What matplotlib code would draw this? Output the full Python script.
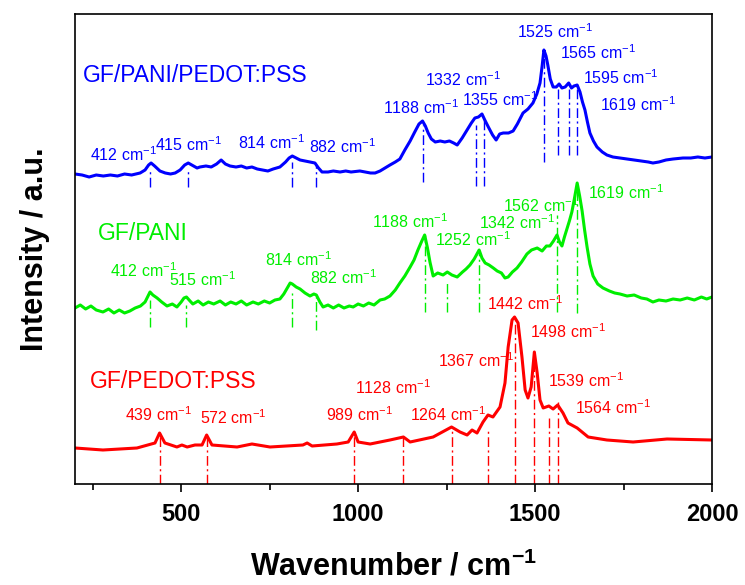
import matplotlib
matplotlib.use("Agg")
import matplotlib.pyplot as plt
from matplotlib.ticker import MultipleLocator

plt.rcParams['font.family'] = ['Liberation Sans', 'DejaVu Sans']
plt.rcParams['mathtext.fontset'] = 'custom'
plt.rcParams['mathtext.rm'] = 'Liberation Sans'
plt.rcParams['mathtext.it'] = 'Liberation Sans:italic'
plt.rcParams['mathtext.bf'] = 'Liberation Sans:bold'

# ---------------- data ----------------
blue_x = [200, 220, 240, 260, 280, 300, 320, 340, 360, 384, 398, 408, 415, 425, 440, 455,
          470, 483, 497, 510, 520, 530, 545, 553, 570, 585, 600, 613, 625, 638, 655, 670,
          685, 700, 715, 730, 745, 760, 779, 795, 805, 814, 825, 836, 850, 865, 878, 888,
          898, 915, 930, 949, 965, 980, 1005, 1020, 1035, 1048, 1062, 1076, 1090, 1105,
          1118, 1132, 1147, 1160, 1172, 1182, 1190, 1198, 1207, 1218, 1232, 1245, 1258,
          1270, 1280, 1294, 1308, 1320, 1330, 1340, 1350, 1358, 1368, 1380, 1390, 1400,
          1410, 1425, 1438, 1450, 1466, 1480, 1494, 1505, 1514, 1520, 1525, 1531, 1536,
          1543, 1551, 1560, 1568, 1576, 1585, 1595, 1603, 1610, 1619, 1627, 1634, 1641,
          1648, 1655, 1665, 1675, 1690, 1703, 1720, 1740, 1760, 1780, 1800, 1820, 1833,
          1850, 1870, 1890, 1918, 1940, 1960, 1980, 2000]
blue_y = [310, 309, 307, 309, 308, 309, 308, 310, 309, 311, 314, 319, 321, 318, 313, 311,
          310, 311, 314, 319, 321, 319, 316, 317, 318, 317, 320, 324, 320, 318, 317, 318,
          316, 317, 315, 314, 313, 315, 317, 322, 326, 328, 326, 324, 323, 322, 321, 316,
          312, 312, 313, 312, 313, 312, 313, 312, 311, 311, 313, 316, 319, 322,
          325, 334, 343, 352, 360, 363, 358, 351, 345, 342, 343, 342, 343,
          341, 339, 346, 354, 361, 366, 367, 370, 364, 357, 349, 344, 350,
          351, 351, 353, 360, 371, 375, 381, 390, 401, 418, 434, 428, 419,
          405, 397, 397, 400, 396, 397, 401, 396, 398, 399, 392, 382, 374,
          362, 351, 343, 337, 332, 329, 327, 326, 325, 324, 323, 322, 321,
          322, 324, 325, 326, 326, 327, 326, 327]

green_x = [200, 215, 230, 245, 260, 279, 295, 310, 325, 340, 355, 370, 385, 398, 405, 412,
           420, 432, 445, 460, 475, 488, 500, 508, 515, 525, 533, 548, 562, 577, 592, 610,
           625, 640, 655, 670, 685, 703, 718, 735, 750, 765, 779, 790, 800, 808, 814, 825,
           836, 850, 864, 875, 882, 892, 901, 915, 930, 945, 960, 975, 986, 1000, 1015,
           1030, 1045, 1062, 1075, 1090, 1105, 1118, 1132, 1147, 1158, 1169, 1180, 1188,
           1196, 1203, 1212, 1225, 1240, 1252, 1265, 1280, 1295, 1305, 1316, 1328, 1342,
           1350, 1359, 1370, 1382, 1393, 1405, 1415, 1424, 1436, 1449, 1462, 1477, 1490,
           1506, 1520, 1532, 1542, 1552, 1562, 1569, 1576, 1583, 1590, 1597, 1604, 1611,
           1619, 1626, 1633, 1640, 1647, 1655, 1664, 1677, 1692, 1710, 1725, 1740, 1760,
           1780, 1800, 1816, 1833, 1850, 1870, 1890, 1910, 1930, 1950, 1970, 1985, 2000]
green_y = [176, 179, 175, 178, 174, 172, 175, 171, 174, 171, 173, 176, 178, 182, 187, 192,
           189, 186, 182, 178, 180, 177, 182, 186, 187, 183, 180, 183, 179, 182, 180, 183,
           179, 182, 180, 183, 179, 182, 180, 183, 181, 184, 185, 190, 196, 201, 200, 197,
           195, 191, 188, 190, 189, 182, 177, 179, 176, 179, 176, 178, 177, 180, 178,
           181, 179, 184, 185, 188, 194, 201, 208, 217, 224, 234, 243, 249,
           236, 222, 208, 211, 209, 212, 209, 207, 212, 215, 219, 225, 234,
           226, 221, 219, 216, 213, 211, 206, 207, 212, 216, 222, 230, 234,
           236, 233, 238, 238, 243, 249, 242, 238, 247, 255, 263, 272, 285,
           301, 288, 273, 254, 237, 220, 208, 200, 196, 193, 191, 190, 188,
           189, 186, 185, 182, 184, 183, 185, 184, 186, 184, 187, 185, 187]

red_x = [200, 279, 375, 426, 439, 454, 488, 502, 517, 539, 559, 572, 587, 658, 700, 751,
         844, 856, 870, 940, 972, 989, 1000, 1034, 1090, 1128, 1147, 1212, 1264, 1288,
         1308, 1322, 1336, 1353, 1367, 1381, 1401, 1415, 1424, 1435, 1442, 1452, 1463,
         1472, 1480, 1489, 1498, 1506, 1514, 1523, 1539, 1551, 1564, 1579, 1593, 1619,
         1650, 1703, 1777, 1873, 2000]
red_y = [36, 34, 36, 41, 51, 41, 37, 39, 37, 39, 39, 49, 39, 37, 40, 37,
         39, 41, 38, 40, 42, 52, 42, 40, 44, 47, 42, 47, 57, 52,
         49, 54, 51, 62, 69, 67, 77, 101, 137, 164, 167, 161, 127,
         94, 86, 97, 132, 111, 84, 76, 78, 75, 79, 71, 61, 56,
         47, 44, 42, 45, 44]

# peak marker lines: wavenumber, top, bottom
blue_peaks = [412, 518, 814, 882, 1182, 1332, 1355, 1525, 1565, 1595, 1619]
blue_tops = [314, 314, 322, 319, 359, 359, 366, 434, 396, 399, 397]
blue_bottoms = [297, 297, 297, 297, 302, 298, 298, 322, 329, 329, 329]
blue_labels = ['412', '415', '814', '882', '1188', '1332', '1355', '1525', '1565', '1595', '1619']

green_peaks = [412, 515, 814, 882, 1188, 1252, 1342, 1562, 1619]
green_tops = [184, 179, 194, 187, 249, 202, 234, 269, 301]
green_bottoms = [157, 157, 157, 154, 172, 172, 172, 172, 171]
green_labels = ['412', '515', '814', '882', '1188', '1252', '1342', '1562', '1619']

red_peaks = [439, 572, 989, 1128, 1264, 1367, 1442, 1498, 1539, 1564]
red_tops = [51, 49, 52, 47, 57, 54, 167, 132, 69, 82]
red_labels = ['439', '572', '989', '1128', '1264', '1367', '1442', '1498', '1539', '1564']

# label anchor positions (layout)
blue_lpos = [(242, 329), (426, 339), (661, 341), (861, 337), (1070, 376), (1189, 404),
             (1294, 384), (1449, 452), (1571, 431), (1636, 406), (1684, 379)]
green_lpos = [(299, 213), (466, 204), (737, 224), (864, 206), (1039, 262), (1217, 244),
              (1342, 261), (1410, 278), (1650, 291)]
red_lpos = [(341, 69), (553, 66), (909, 69), (991, 96), (1147, 69), (1226, 123),
            (1364, 180), (1486, 152), (1537, 103), (1613, 76)]

BLUE = '#0000ff'
GREEN = '#00ee00'
RED = '#ff0000'

fig = plt.figure(figsize=(7.45, 5.85), dpi=100)
ax = fig.add_axes([75/745, 101/585, 637/745, 470/585])

ax.plot(blue_x, blue_y, color=BLUE, lw=2.2)
ax.plot(green_x, green_y, color=GREEN, lw=2.2)
ax.plot(red_x, red_y, color=RED, lw=2.2)

dd = (0, (7, 2.5, 1.5, 2.5))
for p, t, b in zip(blue_peaks, blue_tops, blue_bottoms):
    ax.plot([p, p], [b, t], color=BLUE, lw=1.0, linestyle=dd)
for p, t, b in zip(green_peaks, green_tops, green_bottoms):
    ax.plot([p, p], [b, t], color=GREEN, lw=1.0, linestyle=dd)
for p, t in zip(red_peaks, red_tops):
    ax.plot([p, p], [0, t], color=RED, lw=1.0, linestyle=dd)

fs = 11.5
for lab, (x, y) in zip(blue_labels, blue_lpos):
    ax.text(x, y, lab + r' cm$^{-1}$', color=BLUE, fontsize=fs, ha='left', va='center')
for lab, (x, y) in zip(green_labels, green_lpos):
    ax.text(x, y, lab + r' cm$^{-1}$', color=GREEN, fontsize=fs, ha='left', va='center')
for lab, (x, y) in zip(red_labels, red_lpos):
    ax.text(x, y, lab + r' cm$^{-1}$', color=RED, fontsize=fs, ha='left', va='center')

ax.text(223, 409, 'GF/PANI/PEDOT:PSS', color=BLUE, fontsize=16.5, ha='left', va='center')
ax.text(265, 251, 'GF/PANI', color=GREEN, fontsize=16.5, ha='left', va='center')
ax.text(242, 102, 'GF/PEDOT:PSS', color=RED, fontsize=16.5, ha='left', va='center')

ax.set_xlim(200, 2000)
ax.set_ylim(0, 470)
ax.xaxis.set_major_locator(MultipleLocator(500))
ax.xaxis.set_minor_locator(MultipleLocator(250))
ax.set_yticks([])
ax.tick_params(axis='x', which='major', direction='out', length=6, width=1.2,
               labelsize=17, pad=8)
ax.tick_params(axis='x', which='minor', direction='out', length=4, width=1.2)
for lab in ax.get_xticklabels():
    lab.set_fontweight('bold')
for s in ax.spines.values():
    s.set_linewidth(1.2)

ax.set_xlabel(r'Wavenumber / cm$^{\mathbf{-1}}$', fontsize=22, fontweight='bold', labelpad=18)
ax.set_ylabel('Intensity / a.u.', fontsize=22, fontweight='bold', labelpad=18)

fig.savefig('out.png', dpi=100)
